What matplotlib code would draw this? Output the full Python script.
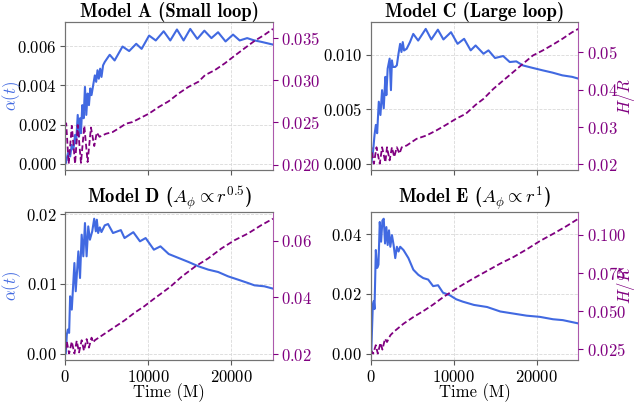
import matplotlib.pyplot as plt

plt.rcParams['font.family'] = 'cmr10'
plt.rcParams['mathtext.fontset'] = 'cm'
plt.rcParams['axes.formatter.use_mathtext'] = True

# ---- Model A (small loop) ----
t_alpha_A = [0, 80, 200, 400, 600, 790, 990, 1190, 1310, 1510, 1670, 1790, 1900, 2060,
             2220, 2380, 2540, 2700, 2860, 3020, 3170, 3370, 3570, 3730, 3890, 4050,
             4210, 4370, 4560, 4760, 5160, 5360, 5950, 6900, 7700, 8550, 9200, 10100,
             10900, 11850, 12650, 13450, 14250, 15050, 15900, 16750, 17600, 18400,
             19300, 20200, 21000, 21900, 22700, 23600, 25000]
alpha_A = [0.0, 0.00003, 0.00029, 0.00063, 0.00037, 0.00096, 0.00071, 0.00147, 0.00105,
           0.00249, 0.00139, 0.00232, 0.00156, 0.00299, 0.00232, 0.00392, 0.00249,
           0.00358, 0.00299, 0.00384, 0.0035, 0.00401, 0.00451, 0.00418, 0.00477,
           0.00434, 0.00485, 0.00443, 0.00502, 0.00519, 0.00544, 0.00556, 0.00527,
           0.00598, 0.00575, 0.00612, 0.00586, 0.00654, 0.00629, 0.00676, 0.00629,
           0.00685, 0.00629, 0.00688, 0.00637, 0.00679, 0.00641, 0.00671, 0.00624,
           0.00659, 0.00629, 0.00641, 0.0063, 0.00622, 0.00608]
t_hr_A = [0, 120, 420, 800, 1190, 1510, 1900, 2300, 2700, 3100, 3500, 3800, 4130, 4920,
          5710, 6510, 7300, 8100, 8890, 10080, 11270, 12460, 13650, 14840, 16030, 16830,
          18020, 19210, 20400, 21590, 22780, 23970, 25000]
hr_A = [0.0246, 0.0249, 0.0201, 0.0246, 0.0201, 0.0247, 0.0202, 0.0246, 0.0203, 0.0244,
        0.0222, 0.0238, 0.0233, 0.02366, 0.02386, 0.02434, 0.02485, 0.02505, 0.02545,
        0.02605, 0.02684, 0.02752, 0.02844, 0.02923, 0.02983, 0.03062, 0.03122,
        0.03202, 0.03293, 0.03381, 0.03468, 0.0354, 0.03611]

# ---- Model C (large loop) ----
t_alpha_C = [0, 83, 320, 478, 636, 794, 991, 1189, 1386, 1584, 1781, 1900, 2058, 2295,
             2453, 2572, 2690, 2967, 3164, 3362, 3559, 3717, 3875, 4033, 4349, 4744,
             5139, 5730, 6640, 7310, 8100, 8770, 9680, 10470, 11260, 12050, 12640,
             13590, 14190, 14980, 15960, 16750, 17540, 18330, 19520, 20700, 21890,
             23070, 24260, 25000]
alpha_C = [0.0, 0.0, 0.00128, 0.00264, 0.00356, 0.0028, 0.00569, 0.00447, 0.00675,
           0.00508, 0.00797, 0.00629, 0.00872, 0.00964, 0.00675, 0.00948, 0.00888,
           0.00888, 0.00903, 0.01009, 0.011, 0.01025, 0.01116, 0.01039, 0.01055,
           0.01116, 0.01191, 0.0113, 0.01237, 0.0114, 0.0123, 0.0114, 0.01207, 0.011,
           0.01146, 0.0104, 0.01085, 0.01009, 0.0104, 0.0097, 0.00988, 0.00933,
           0.00939, 0.00902, 0.00879, 0.00857, 0.00836, 0.00811, 0.00797, 0.00781]
t_hr_C = [0, 83, 399, 715, 1110, 1387, 1782, 1979, 2295, 2572, 2848, 3164, 3480, 3756,
          4349, 5534, 6719, 7904, 9089, 10274, 11459, 12644, 13590, 14780, 15960, 17150,
          18330, 19520, 20700, 21890, 23070, 24260, 25000]
hr_C = [0.0237, 0.0246, 0.0202, 0.0246, 0.0202, 0.0246, 0.0206, 0.0246, 0.0211, 0.0246,
        0.022, 0.0246, 0.0229, 0.0246, 0.02507, 0.02685, 0.02774, 0.02908, 0.03059,
        0.0322, 0.03353, 0.03593, 0.03753, 0.0402, 0.04243, 0.04465, 0.04688, 0.0491,
        0.05044, 0.05195, 0.05355, 0.05533, 0.05622]

# ---- Model D (A_phi ~ r^0.5) ----
t_alpha_D = [0, 79, 198, 317, 476, 595, 794, 1111, 1270, 1587, 1786, 1984, 2182, 2381,
             2579, 2778, 2976, 3254, 3492, 3690, 3809, 3968, 4166, 4365, 4762, 5158,
             5754, 6700, 7142, 8200, 9000, 9682, 10674, 11467, 12460, 13650, 14841,
             16031, 17221, 18412, 19602, 20793, 21983, 22777, 23967, 25000]
alpha_D = [0.0, 0.0, 0.00272, 0.00344, 0.00296, 0.00821, 0.0063, 0.01298, 0.00893,
           0.01465, 0.01083, 0.01704, 0.01394, 0.01871, 0.01394, 0.01823, 0.01632,
           0.01752, 0.01933, 0.01752, 0.01919, 0.01728, 0.01809, 0.01742, 0.01838,
           0.01857, 0.01728, 0.0177, 0.01656, 0.0174, 0.01609, 0.01656, 0.01489,
           0.01537, 0.01427, 0.0137, 0.01313, 0.01251, 0.01203, 0.01169, 0.01107,
           0.0106, 0.01012, 0.00978, 0.00964, 0.00931]
t_hr_D = [0, 79, 198, 476, 794, 1111, 1389, 1667, 1984, 2262, 2579, 2857, 3174, 3373,
          3571, 4762, 5952, 7142, 8333, 9523, 10714, 11904, 12698, 14047, 15634, 17221,
          18808, 20395, 21983, 23570, 25000]
hr_D = [0.0215, 0.0223, 0.0244, 0.0202, 0.0244, 0.0202, 0.0247, 0.0206, 0.0249, 0.0212,
        0.0253, 0.0223, 0.0258, 0.0241, 0.0249, 0.02723, 0.02956, 0.03189, 0.03457,
        0.0369, 0.03959, 0.04215, 0.0439, 0.0474, 0.0509, 0.05381, 0.05731, 0.06023,
        0.06256, 0.06547, 0.0678]

# ---- Model E (A_phi ~ r^1) ----
t_alpha_E = [0, 79, 158, 277, 396, 475, 634, 792, 951, 1109, 1268, 1426, 1585, 1743,
             1902, 2060, 2219, 2377, 2575, 2773, 2972, 3170, 3368, 3566, 3962, 4556,
             5151, 5745, 6339, 6934, 7528, 8122, 8717, 9509, 10301, 11094, 12440, 14025,
             15610, 17195, 18780, 20365, 21950, 23139, 25000]
alpha_E = [0.0, 0.0, 0.0066, 0.0165, 0.0176, 0.0149, 0.0347, 0.0287, 0.0298, 0.0441,
           0.0375, 0.0446, 0.0452, 0.0369, 0.0424, 0.0364, 0.0413, 0.0358, 0.0397,
           0.0364, 0.032, 0.0358, 0.0342, 0.0358, 0.0347, 0.032, 0.0281, 0.0264,
           0.0253, 0.0248, 0.0226, 0.0229, 0.0204, 0.0196, 0.0182, 0.0174, 0.0163,
           0.0156, 0.0141, 0.0134, 0.0127, 0.0123, 0.0115, 0.0112, 0.0101]
t_hr_E = [0, 320, 630, 870, 1190, 1430, 1740, 1980, 2380, 2770, 3960, 5150, 6340, 7530,
          8720, 9900, 11090, 12440, 14030, 15610, 17200, 18780, 20370, 21950, 23540, 25000]
hr_E = [0.0243, 0.0217, 0.0272, 0.0217, 0.0287, 0.0243, 0.0315, 0.0293, 0.0337, 0.0359,
        0.0413, 0.0457, 0.0496, 0.0539, 0.0587, 0.0630, 0.0670, 0.0713, 0.0761, 0.0809,
        0.0852, 0.0902, 0.0957, 0.1004, 0.1054, 0.1104]

titles = ['Model A (Small loop)', 'Model C (Large loop)',
          r'Model D ($A_\phi \propto r^{0.5}$)', r'Model E ($A_\phi \propto r^{1}$)']
alpha_ticks = [[0, 0.002, 0.004, 0.006], [0, 0.005, 0.010],
               [0, 0.01, 0.02], [0, 0.02, 0.04]]
hr_ticks = [[0.020, 0.025, 0.030, 0.035], [0.02, 0.03, 0.04, 0.05],
            [0.02, 0.04, 0.06], [0.025, 0.050, 0.075, 0.100]]

series = [(t_alpha_A, alpha_A, t_hr_A, hr_A),
          (t_alpha_C, alpha_C, t_hr_C, hr_C),
          (t_alpha_D, alpha_D, t_hr_D, hr_D),
          (t_alpha_E, alpha_E, t_hr_E, hr_E)]

blue = 'royalblue'
purple = 'purple'

fig, axes = plt.subplots(2, 2, figsize=(6.39, 4.03), dpi=100, sharex=True)
fig.subplots_adjust(left=0.102, right=0.905, top=0.945, bottom=0.106,
                    wspace=0.47, hspace=0.28)

for i, ax in enumerate(axes.flat):
    ta, a, th, h = series[i]
    ax2 = ax.twinx()

    ax.plot(ta, a, color=blue, lw=1.5)
    ax2.plot(th, h, color=purple, lw=1.3, ls=(0, (3.2, 1.6)))

    ax.set_xlim(0, 25000)
    ax.set_xticks([0, 10000, 20000])
    ax.set_yticks(alpha_ticks[i])
    ax2.set_yticks(hr_ticks[i])

    ax.grid(True, ls='--', lw=0.6, color='0.85')
    ax.set_title(titles[i], fontsize=13.5, fontfamily='cmb10', pad=3)

    ax.tick_params(labelsize=12, color='0.35', pad=2.5)
    ax2.tick_params(axis='y', labelsize=12, colors=purple, pad=2.5)

    for s in ['left', 'top', 'bottom']:
        ax.spines[s].set_color('0.45')
        ax2.spines[s].set_color('0.45')
    ax.spines['right'].set_visible(False)
    ax2.spines['right'].set_color(purple)
    ax2.spines['right'].set_alpha(0.65)

    if i % 2 == 0:
        ax.set_ylabel(r'$\alpha(t)$', color=blue, fontsize=12)
        ax.yaxis.set_label_coords(-0.205, 0.5)
    else:
        ax2.set_ylabel(r'$H/R$', color=purple, fontsize=12)
        ax2.yaxis.set_label_coords(1.175, 0.5)

    if i >= 2:
        ax.set_xlabel('Time (M)', fontsize=12)
        ax.xaxis.set_label_coords(0.5, -0.155)

fig.savefig('out.png', dpi=100)
